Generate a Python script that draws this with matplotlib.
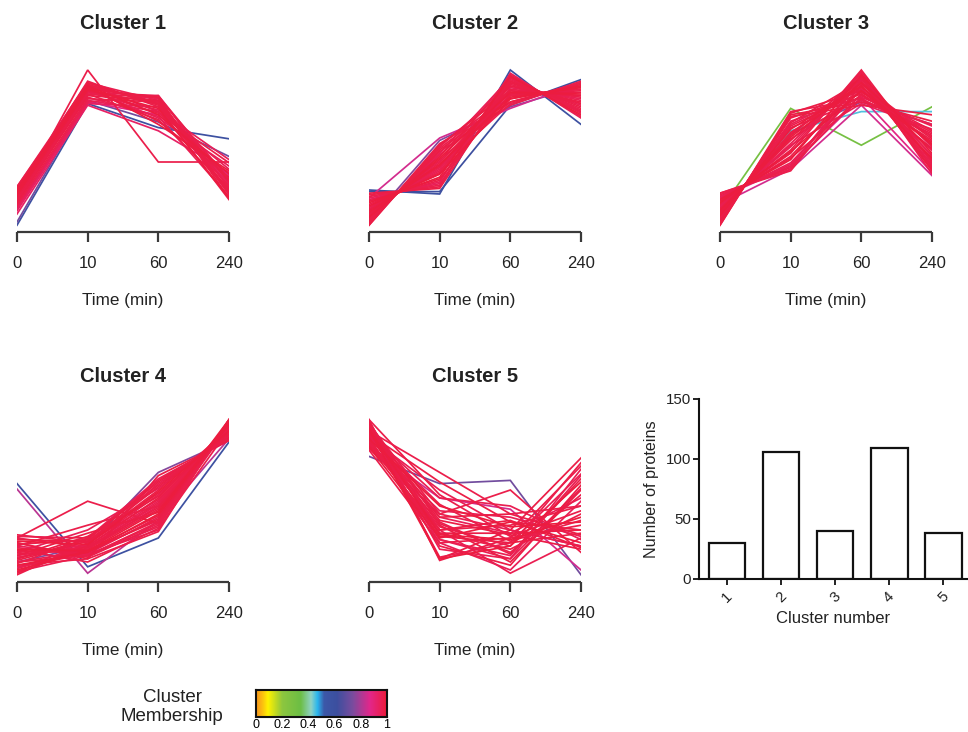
import matplotlib
matplotlib.use("Agg")
import matplotlib.pyplot as plt
from matplotlib.colors import LinearSegmentedColormap
import numpy as np

plt.rcParams['font.family'] = ['Liberation Sans', 'DejaVu Sans']

time_labels = ["0", "10", "60", "240"]

# each row: [membership, t0, t10, t60, t240] (normalised expression)
cluster1 = [
    [0.60, 0.03, 0.79, 0.64, 0.57],
    [0.72, 0.05, 0.81, 0.675, 0.46],
    [0.97, 0.27, 0.90, 0.80, 0.30],
    [0.98, 0.25, 0.92, 0.78, 0.25],
    [0.96, 0.24, 0.89, 0.82, 0.22],
    [0.99, 0.22, 0.88, 0.76, 0.20],
    [0.97, 0.26, 0.91, 0.74, 0.28],
    [0.98, 0.20, 0.87, 0.79, 0.24],
    [0.96, 0.21, 0.86, 0.84, 0.26],
    [0.97, 0.18, 0.85, 0.83, 0.32],
    [0.99, 0.23, 0.90, 0.72, 0.35],
    [0.95, 0.19, 0.88, 0.70, 0.40],
    [0.98, 0.17, 0.84, 0.81, 0.23],
    [0.96, 0.15, 0.80, 0.84, 0.30],
    [0.97, 0.24, 0.93, 0.77, 0.19],
    [0.98, 0.26, 0.89, 0.68, 0.33],
    [0.95, 0.22, 0.86, 0.75, 0.44],
    [0.97, 0.16, 0.82, 0.80, 0.27],
    [0.99, 0.25, 0.90, 0.66, 0.37],
    [0.96, 0.20, 0.83, 0.71, 0.21],
    [0.94, 0.12, 0.79, 0.77, 0.29],
    [0.97, 0.23, 0.87, 0.73, 0.42],
    [0.98, 0.21, 0.91, 0.79, 0.31],
    [0.96, 0.27, 0.92, 0.81, 0.24],
    [0.95, 0.14, 0.81, 0.74, 0.38],
    [0.97, 0.19, 0.85, 0.69, 0.26],
    [0.98, 0.24, 0.88, 0.83, 0.20],
    [0.93, 0.10, 0.78, 0.62, 0.36],
    [0.97, 0.19, 1.00, 0.425, 0.425],
    [0.88, 0.13, 0.80, 0.72, 0.34],
]

cluster2 = [
    [0.60, 0.25, 0.225, 1.00, 0.66],
    [0.62, 0.24, 0.24, 0.78, 0.94],
    [0.85, 0.20, 0.575, 0.76, 0.92],
    [0.75, 0.05, 0.56, 0.77, 0.90],
    [0.97, 0.03, 0.54, 0.80, 0.92],
    [0.98, 0.05, 0.50, 0.82, 0.90],
    [0.96, 0.07, 0.47, 0.84, 0.88],
    [0.99, 0.08, 0.45, 0.86, 0.85],
    [0.97, 0.10, 0.42, 0.88, 0.83],
    [0.98, 0.12, 0.40, 0.90, 0.80],
    [0.96, 0.13, 0.38, 0.92, 0.78],
    [0.97, 0.15, 0.36, 0.94, 0.75],
    [0.99, 0.17, 0.33, 0.96, 0.72],
    [0.95, 0.19, 0.30, 0.98, 0.70],
    [0.97, 0.21, 0.28, 0.95, 0.74],
    [0.98, 0.23, 0.26, 0.92, 0.79],
    [0.96, 0.04, 0.52, 0.90, 0.81],
    [0.97, 0.06, 0.49, 0.78, 0.93],
    [0.98, 0.09, 0.44, 0.80, 0.91],
    [0.99, 0.11, 0.41, 0.83, 0.89],
    [0.96, 0.14, 0.37, 0.87, 0.84],
    [0.97, 0.16, 0.35, 0.91, 0.79],
    [0.98, 0.18, 0.32, 0.85, 0.86],
    [0.95, 0.20, 0.29, 0.89, 0.82],
    [0.97, 0.22, 0.27, 0.97, 0.71],
    [0.98, 0.08, 0.46, 0.93, 0.77],
    [0.96, 0.12, 0.39, 0.79, 0.92],
    [0.97, 0.05, 0.51, 0.85, 0.87],
    [0.99, 0.15, 0.35, 0.82, 0.90],
    [0.96, 0.10, 0.43, 0.96, 0.73],
    [0.97, 0.18, 0.31, 0.93, 0.76],
    [0.98, 0.03, 0.53, 0.87, 0.84],
    [0.95, 0.07, 0.48, 0.95, 0.74],
    [0.97, 0.13, 0.40, 0.84, 0.88],
]

cluster3 = [
    [0.30, 0.12, 0.76, 0.53, 0.77],
    [0.45, 0.09, 0.62, 0.74, 0.74],
    [0.75, 0.10, 0.60, 0.80, 0.66],
    [0.85, 0.16, 0.38, 0.78, 0.34],
    [0.88, 0.20, 0.40, 0.83, 0.36],
    [0.97, 0.03, 0.74, 0.82, 0.60],
    [0.98, 0.05, 0.70, 0.85, 0.55],
    [0.96, 0.07, 0.66, 0.88, 0.50],
    [0.99, 0.09, 0.63, 0.90, 0.45],
    [0.97, 0.11, 0.60, 0.93, 0.40],
    [0.98, 0.13, 0.56, 0.95, 0.38],
    [0.96, 0.15, 0.52, 0.98, 0.35],
    [0.97, 0.17, 0.48, 1.00, 0.42],
    [0.99, 0.19, 0.44, 0.97, 0.48],
    [0.95, 0.21, 0.40, 0.94, 0.52],
    [0.97, 0.23, 0.37, 0.91, 0.58],
    [0.98, 0.04, 0.72, 0.80, 0.68],
    [0.96, 0.06, 0.68, 0.83, 0.65],
    [0.97, 0.08, 0.65, 0.86, 0.62],
    [0.98, 0.10, 0.61, 0.89, 0.57],
    [0.99, 0.12, 0.58, 0.92, 0.53],
    [0.96, 0.14, 0.54, 0.96, 0.46],
    [0.97, 0.16, 0.50, 0.99, 0.39],
    [0.98, 0.18, 0.46, 0.92, 0.44],
    [0.95, 0.20, 0.42, 0.88, 0.50],
    [0.97, 0.22, 0.39, 0.85, 0.56],
    [0.98, 0.05, 0.71, 0.78, 0.72],
    [0.96, 0.09, 0.64, 0.81, 0.66],
    [0.97, 0.13, 0.57, 0.84, 0.61],
    [0.99, 0.17, 0.49, 0.87, 0.54],
    [0.96, 0.21, 0.41, 0.90, 0.47],
    [0.97, 0.07, 0.67, 0.93, 0.43],
    [0.98, 0.11, 0.59, 0.96, 0.37],
    [0.95, 0.15, 0.53, 0.79, 0.63],
    [0.97, 0.19, 0.45, 0.82, 0.59],
    [0.98, 0.03, 0.73, 0.87, 0.51],
    [0.96, 0.23, 0.38, 0.95, 0.41],
]

cluster4 = [
    [0.60, 0.59, 0.07, 0.25, 0.85],
    [0.82, 0.556, 0.03, 0.36, 0.87],
    [0.75, 0.10, 0.20, 0.66, 0.86],
    [0.97, 0.25, 0.48, 0.34, 0.95],
    [0.97, 0.02, 0.22, 0.55, 0.93],
    [0.98, 0.04, 0.20, 0.50, 0.95],
    [0.96, 0.06, 0.18, 0.45, 0.97],
    [0.99, 0.08, 0.16, 0.40, 0.99],
    [0.97, 0.10, 0.14, 0.35, 0.98],
    [0.98, 0.12, 0.24, 0.60, 0.88],
    [0.96, 0.14, 0.21, 0.52, 0.92],
    [0.97, 0.16, 0.19, 0.47, 0.94],
    [0.99, 0.18, 0.17, 0.42, 0.96],
    [0.95, 0.20, 0.15, 0.38, 0.97],
    [0.97, 0.22, 0.13, 0.33, 0.99],
    [0.98, 0.24, 0.23, 0.57, 0.90],
    [0.96, 0.26, 0.25, 0.62, 0.86],
    [0.97, 0.27, 0.22, 0.49, 0.93],
    [0.98, 0.03, 0.19, 0.44, 0.96],
    [0.99, 0.05, 0.17, 0.39, 0.98],
    [0.96, 0.07, 0.15, 0.30, 0.99],
    [0.97, 0.09, 0.25, 0.58, 0.89],
    [0.98, 0.11, 0.23, 0.53, 0.91],
    [0.95, 0.13, 0.20, 0.48, 0.94],
    [0.97, 0.15, 0.18, 0.43, 0.96],
    [0.98, 0.17, 0.16, 0.37, 0.97],
    [0.96, 0.19, 0.14, 0.32, 0.98],
    [0.97, 0.21, 0.24, 0.61, 0.87],
    [0.99, 0.23, 0.21, 0.54, 0.92],
    [0.96, 0.25, 0.19, 0.46, 0.95],
    [0.97, 0.08, 0.12, 0.29, 0.99],
    [0.98, 0.12, 0.26, 0.51, 0.92],
    [0.95, 0.16, 0.30, 0.56, 0.90],
    [0.97, 0.20, 0.33, 0.45, 0.94],
    [0.98, 0.14, 0.28, 0.41, 0.97],
    [0.96, 0.04, 0.14, 0.34, 0.97],
    [0.97, 0.18, 0.10, 0.31, 0.93],
    [0.98, 0.22, 0.12, 0.64, 0.86],
    [0.96, 0.06, 0.21, 0.59, 0.88],
    [0.97, 0.10, 0.17, 0.36, 0.96],
]

cluster5 = [
    [0.72, 0.76, 0.59, 0.61, 0.02],
    [0.85, 0.82, 0.50, 0.43, 0.05],
    [0.97, 0.99, 0.11, 0.25, 0.70],
    [0.98, 0.97, 0.12, 0.30, 0.75],
    [0.96, 0.95, 0.13, 0.22, 0.65],
    [0.99, 0.93, 0.12, 0.20, 0.60],
    [0.97, 0.92, 0.66, 0.40, 0.45],
    [0.98, 0.90, 0.60, 0.35, 0.30],
    [0.96, 0.88, 0.55, 0.30, 0.20],
    [0.97, 0.96, 0.40, 0.55, 0.16],
    [0.99, 0.87, 0.45, 0.32, 0.35],
    [0.95, 0.85, 0.38, 0.28, 0.50],
    [0.97, 0.83, 0.35, 0.15, 0.62],
    [0.98, 0.91, 0.33, 0.10, 0.55],
    [0.96, 0.89, 0.30, 0.03, 0.25],
    [0.97, 0.94, 0.28, 0.18, 0.40],
    [0.98, 0.86, 0.26, 0.22, 0.28],
    [0.99, 0.82, 0.25, 0.35, 0.22],
    [0.96, 0.98, 0.24, 0.12, 0.68],
    [0.97, 0.80, 0.22, 0.25, 0.33],
    [0.98, 0.92, 0.36, 0.27, 0.18],
    [0.95, 0.84, 0.42, 0.38, 0.26],
    [0.97, 0.95, 0.30, 0.33, 0.45],
    [0.98, 0.88, 0.20, 0.08, 0.58],
    [0.96, 0.90, 0.50, 0.45, 0.24],
    [0.97, 0.86, 0.32, 0.20, 0.72],
    [0.99, 0.93, 0.27, 0.24, 0.38],
    [0.96, 0.81, 0.40, 0.30, 0.20],
    [0.97, 0.97, 0.34, 0.16, 0.52],
    [0.98, 0.84, 0.28, 0.28, 0.30],
    [0.95, 0.91, 0.22, 0.05, 0.48],
    [0.97, 0.89, 0.46, 0.23, 0.36],
    [0.98, 0.94, 0.38, 0.40, 0.27],
    [0.96, 0.87, 0.24, 0.14, 0.64],
    [0.97, 0.99, 0.52, 0.26, 0.42],
    [0.98, 0.83, 0.30, 0.36, 0.19],
    [0.96, 0.96, 0.18, 0.12, 0.56],
]

clusters = [cluster1, cluster2, cluster3, cluster4, cluster5]
cluster_names = ["Cluster 1", "Cluster 2", "Cluster 3", "Cluster 4", "Cluster 5"]

bar_clusters = [1, 2, 3, 4, 5]
bar_counts = [30, 106, 40, 109, 38]

cmap = LinearSegmentedColormap.from_list("membership", [
    (0.00, "#f7941d"), (0.05, "#fcc20f"), (0.09, "#fff200"),
    (0.20, "#8dc63f"), (0.34, "#6cbe45"), (0.42, "#8fd3c4"),
    (0.47, "#29b6ee"), (0.52, "#3c58a8"), (0.62, "#3d4f9f"),
    (0.74, "#7a4c9e"), (0.87, "#e2278b"), (1.00, "#ed1b3a"),
])

W, H = 968, 732
fig = plt.figure(figsize=(W / 100, H / 100), dpi=100)

def fx(px):
    return px / W

def fy(py):
    return 1 - py / H

col_left = [17, 369, 720]
panel_w = 212
row_zero = [230, 578]     # pixel row of value 0
row_spine = [232, 582]    # pixel row of the axis line
title_pad = [23.5, 20.0]
unit_px = 160
ymax = 1.05

txt_col = "#222222"
spine_col = "#3a3a3a"
for i, (prof, name) in enumerate(zip(clusters, cluster_names)):
    r, c = divmod(i, 3)
    ymin = (row_zero[r] - row_spine[r]) / unit_px
    hpx = unit_px * (ymax - ymin)
    ax = fig.add_axes([fx(col_left[c]), fy(row_spine[r]), panel_w / W, hpx / H])
    xs = np.arange(len(time_labels))
    rows = sorted(prof, key=lambda p: p[0])
    for p in rows:
        ax.plot(xs, p[1:], color=cmap(p[0]), lw=1.25, solid_joinstyle="miter")
    ax.set_xlim(0, 3)
    ax.set_ylim(ymin, ymax)
    for s in ["left", "right", "top"]:
        ax.spines[s].set_visible(False)
    ax.spines["bottom"].set_color(spine_col)
    ax.spines["bottom"].set_linewidth(1.6)
    ax.spines["bottom"].set_capstyle("butt")
    ax.set_yticks([])
    ax.set_xticks(xs)
    ax.set_xticklabels(time_labels)
    ax.tick_params(axis="x", direction="out", length=7.5, width=1.6,
                   color=spine_col, pad=9.5, labelsize=12, labelcolor=txt_col)
    ax.set_xlabel("Time (min)", fontsize=12.3, labelpad=16, color=txt_col)
    ax.set_title(name, fontsize=14.5, fontweight="bold", pad=title_pad[r],
                 color=txt_col)
    ax.patch.set_alpha(0)

# bar chart
bax = fig.add_axes([fx(699), fy(579), 269 / W, 180 / H])
bax.bar(bar_clusters, bar_counts, width=0.68, facecolor="white",
        edgecolor="#111111", linewidth=1.6)
bax.set_xlim(0.48, 5.46)
bax.set_ylim(0, 150)
bax.set_yticks([0, 50, 100, 150])
bax.set_xticks(bar_clusters)
bax.set_xticklabels([str(b) for b in bar_clusters], rotation=45,
                    ha="center", va="top")
for s in ["right", "top"]:
    bax.spines[s].set_visible(False)
for s in ["left", "bottom"]:
    bax.spines[s].set_linewidth(1.5)
    bax.spines[s].set_color("#111111")
bax.tick_params(direction="out", length=4, width=1.3, labelsize=10.8,
                color="#111111", labelcolor=txt_col)
bax.tick_params(axis="y", pad=1.5)
bax.set_xlabel("Cluster number", fontsize=12, labelpad=4, color=txt_col)
bax.set_ylabel("Number of proteins", fontsize=11.6, labelpad=5, color=txt_col)

# colorbar
cax = fig.add_axes([fx(256), fy(717), 131 / W, 27 / H])
grad = np.linspace(0, 1, 256).reshape(1, -1)
cax.imshow(grad, aspect="auto", cmap=cmap, extent=[0, 1, 0, 1])
cax.set_xlim(0, 1)
cax.set_yticks([])
cax.set_xticks([0, 0.2, 0.4, 0.6, 0.8, 1.0])
cax.set_xticklabels(["0", "0.2", "0.4", "0.6", "0.8", "1"])
cax.tick_params(axis="x", length=0, pad=1.5, labelsize=9)
for s in cax.spines.values():
    s.set_linewidth(1.5)
    s.set_color("#111111")
fig.text(fx(172), fy(707), "Cluster\nMembership", ha="center", va="center",
         fontsize=13.5, linespacing=1.1, color=txt_col)

fig.savefig("out.png", dpi=100)
